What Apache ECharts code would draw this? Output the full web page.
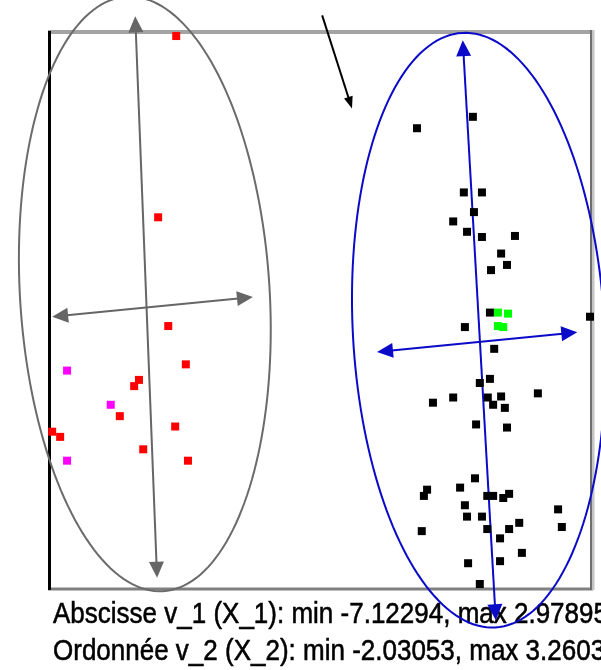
<!DOCTYPE html>
<html><head><meta charset="utf-8">
<script src="https://cdn.jsdelivr.net/npm/echarts@6/dist/echarts.min.js"></script>
<style>html,body{margin:0;padding:0;background:#fff}#c{width:601px;height:670px}</style>
</head><body><div id="c"></div>
<script>
// Axis extents (from the caption)
const xRange = [-7.12294, 2.97895];
const yRange = [-2.03053, 3.26035];

// Group 1 (left)
const redPoints = [
  [-4.79, 3.26], [-5.13, 1.51], [-4.94, 0.46], [-4.61, 0.09], [-5.49, -0.06],
  [-5.58, -0.12], [-5.85, -0.41], [-7.12, -0.56], [-6.97, -0.61], [-4.81, -0.51],
  [-5.41, -0.73], [-4.57, -0.84]
];
const magentaPoints = [[-6.84, 0.03], [-6.02, -0.30], [-6.84, -0.84]];

// Group 2 (right)
const blackPoints = [
  [0.78, 2.48], [-0.27, 2.37], [0.61, 1.75], [0.95, 1.75], [0.80, 1.56],
  [0.41, 1.47], [0.67, 1.37], [0.95, 1.32], [1.57, 1.33], [1.31, 1.16],
  [1.42, 1.05], [1.12, 1.00], [1.10, 0.59], [0.63, 0.45], [1.18, 0.24],
  [2.97895, 0.55], [1.10, -0.05], [0.91, -0.09], [0.41, -0.23], [0.03, -0.28],
  [1.06, -0.23], [1.31, -0.22], [2.00, -0.19], [1.16, -0.30], [1.38, -0.33],
  [0.84, -0.49], [1.42, -0.52], [0.82, -1.01], [-0.08, -1.12], [-0.14, -1.18],
  [0.54, -1.10], [1.05, -1.18], [1.16, -1.18], [1.46, -1.16], [1.35, -1.20],
  [0.63, -1.27], [0.67, -1.38], [0.95, -1.38], [2.38, -1.31], [1.65, -1.44],
  [1.05, -1.50], [1.46, -1.50], [-0.18, -1.52], [2.45, -1.48], [1.29, -1.59],
  [1.70, -1.73], [0.69, -1.83], [1.29, -1.81], [0.91, -2.03053]
];
const greenPoints = [[1.25, 0.59], [1.44, 0.58], [1.25, 0.46], [1.35, 0.45]];

// Ellipses: [center, end of major axis, end of minor axis]
const grayEllipse = [[-5.38, 0.77], [-5.72, 3.64], [-3.04, 0.84]];
const blueEllipse = [[0.89, 0.42], [0.58, 3.29], [3.25, 0.49]];

// Arrows: [x1, y1, x2, y2]
const grayArrows = [[-5.56, 3.45, -5.15, -1.97], [-7.12, 0.55, -3.35, 0.74]];
const blueArrows = [[0.59, 3.22, 1.21, -2.38], [-1.02, 0.21, 2.74, 0.40]];
const pointerArrow = [[-2.05, 3.46, -1.49, 2.56]];

const captionLines = [
  'Abscisse v_1 (X_1): min -7.12294, max 2.97895',
  'Ordonnée v_2 (X_2): min -2.03053, max 3.26035'
];

function arrowRenderer(color, width, headLen, headW, both) {
  return function (params, api) {
    const a = api.coord([api.value(0), api.value(1)]);
    const b = api.coord([api.value(2), api.value(3)]);
    const dx = b[0] - a[0], dy = b[1] - a[1];
    const len = Math.hypot(dx, dy);
    const ux = dx / len, uy = dy / len, nx = -uy, ny = ux;
    function head(tip, sx, sy) {
      const bx = tip[0] - sx * headLen, by = tip[1] - sy * headLen;
      return { type: 'polygon', shape: { points: [tip, [bx + nx * headW / 2, by + ny * headW / 2], [bx - nx * headW / 2, by - ny * headW / 2]] }, style: { fill: color } };
    }
    const s = both ? [a[0] + ux * headLen * 0.6, a[1] + uy * headLen * 0.6] : a;
    const e = [b[0] - ux * headLen * 0.6, b[1] - uy * headLen * 0.6];
    const children = [{ type: 'line', shape: { x1: s[0], y1: s[1], x2: e[0], y2: e[1] }, style: { stroke: color, lineWidth: width } }];
    children.push(head(b, ux, uy));
    if (both) children.push(head(a, -ux, -uy));
    return { type: 'group', children: children };
  };
}

function ellipseRenderer(color, width) {
  return function (params, api) {
    const cx = api.value(0), cy = api.value(1);
    const mx = api.value(2) - cx, my = api.value(3) - cy;
    const nx = api.value(4) - cx, ny = api.value(5) - cy;
    const pts = [];
    for (let i = 0; i < 180; i++) {
      const t = i / 180 * Math.PI * 2;
      pts.push(api.coord([cx + mx * Math.cos(t) + nx * Math.sin(t), cy + my * Math.cos(t) + ny * Math.sin(t)]));
    }
    return { type: 'polygon', shape: { points: pts }, style: { fill: 'none', stroke: color, lineWidth: width } };
  };
}

const chart = echarts.init(document.getElementById('c'), null, { renderer: 'canvas' });
const captionFont = '26px "Liberation Sans", Arial, sans-serif';
const captionStyle = (t) => ({ text: t, font: captionFont, fill: '#000', stroke: '#000', lineWidth: 0.5, verticalAlign: 'middle' });
const pointStyle = (c) => ({ color: c, opacity: 1 });

chart.setOption({
  animation: false,
  backgroundColor: '#ffffff',
  grid: { left: 52, top: 36, width: 538, height: 548, containLabel: false },
  xAxis: { type: 'value', min: xRange[0], max: xRange[1], show: false },
  yAxis: { type: 'value', min: yRange[0], max: yRange[1], show: false },
  graphic: [
    { type: 'rect', z: 0, shape: { x: 48, y: 30, width: 545, height: 4 }, style: { fill: '#a3a3a3' } },
    { type: 'rect', z: 0, shape: { x: 48, y: 587.5, width: 545, height: 3 }, style: { fill: '#808080' } },
    { type: 'rect', z: 0, shape: { x: 590, y: 30, width: 2, height: 560 }, style: { fill: '#6e6e6e' } },
    { type: 'rect', z: 0, shape: { x: 592, y: 30, width: 2.5, height: 560 }, style: { fill: '#c4c4c4' } },
    { type: 'rect', z: 0, shape: { x: 48, y: 31, width: 3, height: 559 }, style: { fill: '#000000' } },
    { type: 'text', z: 1, x: 53, y: 615, scaleY: 1.1, style: captionStyle(captionLines[0]) },
    { type: 'text', z: 1, x: 53, y: 652, scaleY: 1.1, style: captionStyle(captionLines[1]) }
  ],
  series: [
    { type: 'custom', z: 3, silent: true, clip: false, renderItem: ellipseRenderer('#6b6b6b', 2), data: [grayEllipse.flat()] },
    { type: 'custom', z: 3, silent: true, clip: false, renderItem: ellipseRenderer('#0a0ac8', 2), data: [blueEllipse.flat()] },
    { type: 'custom', z: 3, silent: true, clip: false, renderItem: arrowRenderer('#666666', 2, 16, 15, true), data: grayArrows },
    { type: 'custom', z: 3, silent: true, clip: false, renderItem: arrowRenderer('#0a0ac8', 2, 16, 15, true), data: blueArrows },
    { type: 'custom', z: 3, silent: true, clip: false, renderItem: arrowRenderer('#000000', 2, 12, 9, false), data: pointerArrow },
    { type: 'scatter', z: 4, silent: true, symbol: 'rect', symbolSize: 8, itemStyle: pointStyle('#ff0000'), data: redPoints },
    { type: 'scatter', z: 4, silent: true, symbol: 'rect', symbolSize: 8, itemStyle: pointStyle('#ff00ff'), data: magentaPoints },
    { type: 'scatter', z: 4, silent: true, symbol: 'rect', symbolSize: 8, itemStyle: pointStyle('#000000'), data: blackPoints },
    { type: 'scatter', z: 5, silent: true, symbol: 'rect', symbolSize: 8, itemStyle: pointStyle('#00ff00'), data: greenPoints }
  ]
});
</script></body></html>
